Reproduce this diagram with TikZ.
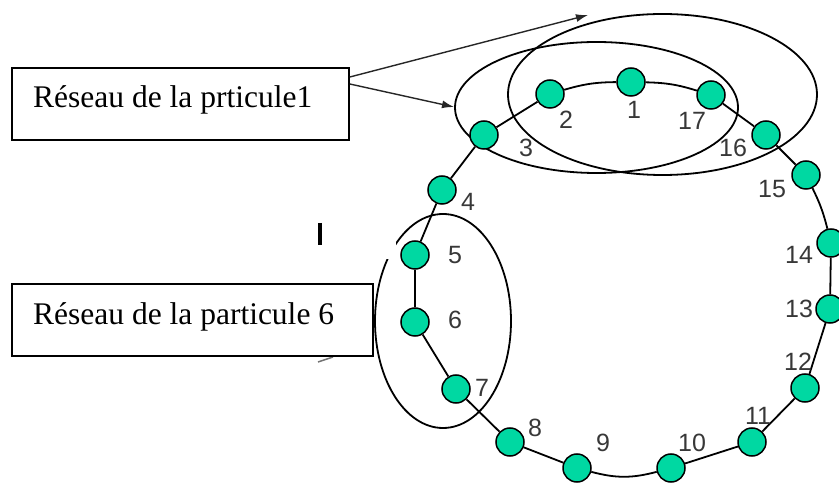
\documentclass[tikz,border=0pt]{standalone}
\usepackage{fontspec}
\setmainfont{Liberation Serif}
\newfontfamily\lblfont{Liberation Sans}
\usetikzlibrary{arrows.meta,backgrounds}
\definecolor{mint}{RGB}{0,216,162}
\definecolor{lblgray}{RGB}{56,56,56}
\begin{document}
\begin{tikzpicture}[x=1pt,y=-1pt,
 pnode/.style={circle,draw=black,line width=1.5pt,fill=mint,minimum size=28pt,inner sep=0pt},
 lbl/.style={font=\lblfont\fontsize{25}{25}\selectfont,text=lblgray,inner sep=0pt},
 ring/.style={line width=1.8pt},
 zone/.style={line width=1.8pt},
 labelbox/.style={draw,fill=white,line width=1.7pt,inner sep=0pt},
 boxtext/.style={font=\fontsize{31.5}{32}\selectfont,inner sep=0pt,anchor=base west},
 pointer/.style={line width=1.4pt,draw=black!85,-{Latex[length=12pt,width=8pt]}}]
\useasboundingbox (0,0) rectangle (839,486);

% particles
\node[pnode] (n1)  at (631,82)  {};
\node[pnode] (n2)  at (550,94)  {};
\node[pnode] (n3)  at (484,135) {};
\node[pnode] (n4)  at (442,190) {};
\node[pnode] (n5)  at (415,255) {};
\node[pnode] (n6)  at (415,322) {};
\node[pnode] (n7)  at (456,389) {};
\node[pnode] (n8)  at (510,442) {};
\node[pnode] (n9)  at (577,468) {};
\node[pnode] (n10) at (671,468) {};
\node[pnode] (n11) at (752,442) {};
\node[pnode] (n12) at (805,388) {};
\node[pnode] (n13) at (830,309) {};
\node[pnode] (n14) at (831,243) {};
\node[pnode] (n15) at (806,175) {};
\node[pnode] (n16) at (766,135) {};
\node[pnode] (n17) at (711,95)  {};

% labels
\node[lbl] (l1)  at (634,110) {1};
\node[lbl] (l2)  at (566,120) {2};
\node[lbl] (l3)  at (526,148) {3};
\node[lbl] (l4)  at (468,202) {4};
\node[lbl] (l5)  at (455,255) {5};
\node[lbl] (l6)  at (455,320) {6};
\node[lbl] (l7)  at (482,388) {7};
\node[lbl] (l8)  at (535,428) {8};
\node[lbl] (l9)  at (603,443) {9};
\node[lbl] (l10) at (692,443) {10};
\node[lbl] (l11) at (758,416) {11};
\node[lbl] (l12) at (798,362) {12};
\node[lbl] (l13) at (799,309) {13};
\node[lbl] (l14) at (799,255) {14};
\node[lbl] (l15) at (772,189) {15};
\node[lbl] (l16) at (733,148) {16};
\node[lbl] (l17) at (692,121) {17};

% text boxes
\node[labelbox,minimum width=337pt,minimum height=72pt] (box1) at (180.5,104) {};
\node[boxtext] (t1) at (33,108) {Réseau de la prticule1};
\node[labelbox,minimum width=361pt,minimum height=72pt] (box2) at (192.5,320) {};
\node[boxtext] (t2) at (33,325) {Réseau de la particule 6};

\coordinate (a1) at (588,15);
\coordinate (a2) at (454,107);
\draw[pointer] ([yshift=27pt]box1.east) -- (a1);
\draw[pointer] ([yshift=20pt]box1.east) -- (a2);

\begin{pgfonlayer}{background}
\fill[white] (0,0) rectangle (839,486);
\draw[zone] (662.5,94.5) ellipse [x radius=154.5pt, y radius=80.5pt];
\draw[zone] (596.5,107.5) ellipse [x radius=141.5pt, y radius=65.5pt];
\draw[zone] (443,321) ellipse [x radius=68pt, y radius=107pt];
\fill[white] (300,200) rectangle (396,259);
\draw[ring] (n1) to[bend right=8] (n2);
\draw[ring] (n2) -- (n3);
\draw[ring] (n3) -- (n4);
\draw[ring] (n4) -- (n5);
\draw[ring] (n5) -- (n6);
\draw[ring] (n6) -- (n7);
\draw[ring] (n7) -- (n8);
\draw[ring] (n8) -- (n9);
\draw[ring] (n9) to[bend right=15] (n10);
\draw[ring] (n10) -- (n11);
\draw[ring] (n11) -- (n12);
\draw[ring] (n12) -- (n13);
\draw[ring] (n13) -- (n14);
\draw[ring] (n14) to[bend right=6] (n15);
\draw[ring] (n15) -- (n16);
\draw[ring] (n16) -- (n17);
\draw[ring] (n17) to[bend right=8] (n1);
\draw[line width=4pt] (320,223) -- (320,245);
\draw[black!55,line width=1.5pt] (318,362) -- (333,357);
\end{pgfonlayer}
\end{tikzpicture}
\end{document}
